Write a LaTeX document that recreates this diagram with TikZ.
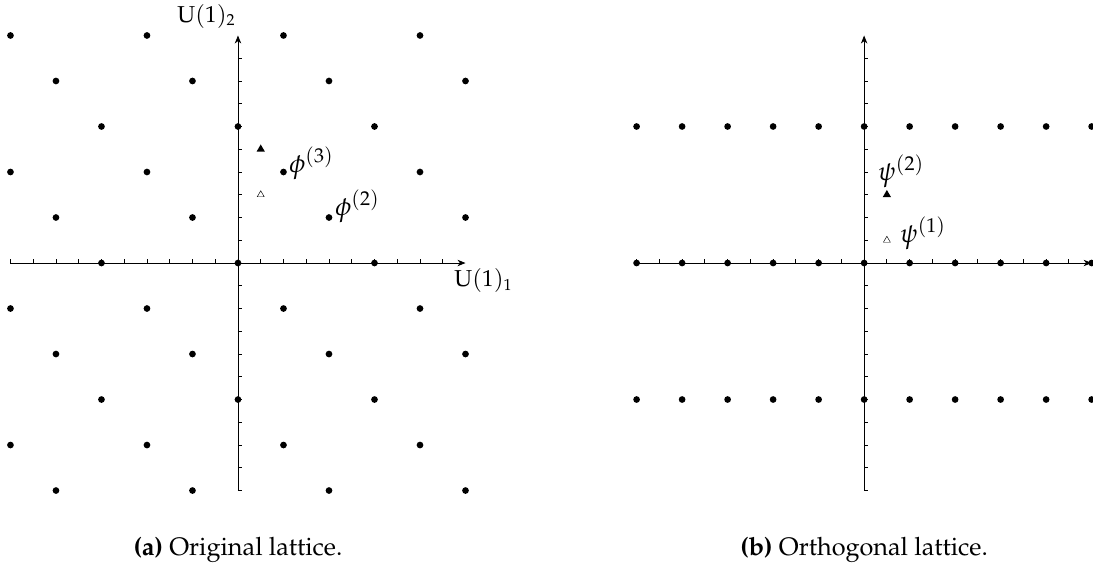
\documentclass[tikz,border=0pt]{standalone}
\usepackage[T1]{fontenc}
\usepackage{mathpazo}
\usepackage{tikz}
\usetikzlibrary{arrows.meta,shapes.geometric}

\begin{document}
\begin{tikzpicture}[
  ax/.style={-{Stealth[length=5pt,width=4pt,inset=1.5pt]},line width=0.5pt},
  tk/.style={line width=0.5pt},
  tri/.style={regular polygon,regular polygon sides=3,inner sep=0pt,minimum size=6pt},
  lab/.style={anchor=base west,inner sep=0pt,font=\fontsize{16.5}{19}\selectfont},
  axlab/.style={inner sep=0pt,font=\Large},
  captext/.style={font=\fontsize{15.8}{19}\selectfont}
]
\useasboundingbox (-5.23,-6.75) rectangle (18.79,5.78);

% (a) original lattice
\draw[ax] (-5,0) -- (5,0);
\draw[ax] (0,-5) -- (0,5);
\foreach \t in {-5,-4.5,...,4.6} {
  \draw[tk] (\t,0) -- (\t,0.09);
  \draw[tk] (0,\t) -- (0.09,\t);
}
\foreach \y in {-5,...,5}
  \foreach \x in {-5,...,5} {
    \pgfmathtruncatemacro\r{mod(\x-2*\y+30,3)}
    \ifnum\r=0 \fill (\x,\y) circle (2.1pt); \fi
  }
\node[tri,fill=black] (phithree) at (0.5,2.5) {};
\node[tri,draw,line width=0.3pt,fill=white,minimum size=5pt] (phitwo) at (0.5,1.5) {};
\node[lab] (phithreelab) at (1.12,2) {$\phi^{(3)}$};
\node[lab] (phitwolab) at (2.13,1.05) {$\phi^{(2)}$};
\node[axlab,anchor=north west] (uone) at (4.75,-0.12) {U$(1)_1$};
\node[axlab,anchor=south east] (utwo) at (-0.05,5.15) {U$(1)_2$};
\node[captext] (capa) at (0,-6.3) {\textbf{(a)} Original lattice.};

% (b) orthogonal lattice
\begin{scope}[xshift=13.76cm]
\draw[ax] (-5,0) -- (5,0);
\draw[ax] (0,-5) -- (0,5);
\foreach \t in {-5,-4.5,...,4.6} {
  \draw[tk] (\t,0) -- (\t,0.09);
  \draw[tk] (0,\t) -- (0.09,\t);
}
\foreach \y in {-3,0,3}
  \foreach \x in {-5,...,5}
    \fill (\x,\y) circle (2.1pt);
\node[tri,fill=black] (psitwo) at (0.5,1.5) {};
\node[tri,draw,line width=0.3pt,fill=white,minimum size=5pt] (psione) at (0.5,0.5) {};
\node[lab] (psitwolab) at (0.3,1.82) {$\psi^{(2)}$};
\node[lab] (psionelab) at (0.78,0.46) {$\psi^{(1)}$};
\node[captext] (capb) at (0,-6.3) {\textbf{(b)} Orthogonal lattice.};
\end{scope}
\end{tikzpicture}
\end{document}
